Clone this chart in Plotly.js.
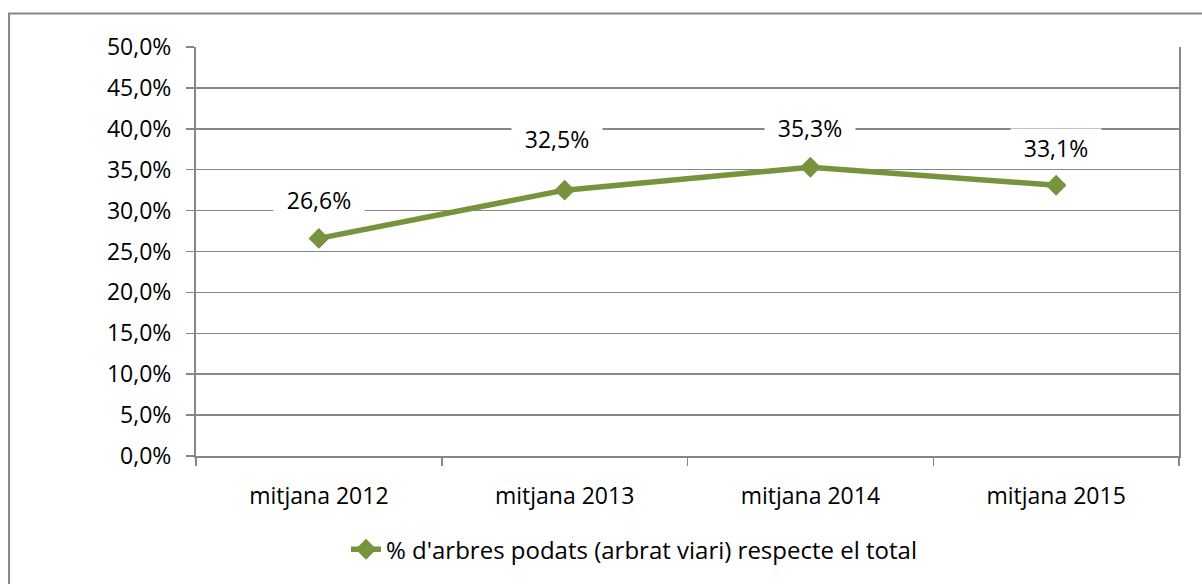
<!DOCTYPE html>
<html>
<head>
<meta charset="utf-8">
<script src="https://cdn.plot.ly/plotly-3.0.1.min.js"></script>
<style>
html,body{margin:0;padding:0;background:#fff;}
#chart{width:1202px;height:584px;}
</style>
</head>
<body>
<div id="chart"></div>
<script>
const categories = ["mitjana 2012", "mitjana 2013", "mitjana 2014", "mitjana 2015"];
const values = [26.6, 32.5, 35.3, 33.1];
const valueLabels = ["26,6%", "32,5%", "35,3%", "33,1%"];
const yTickVals = [0, 5, 10, 15, 20, 25, 30, 35, 40, 45, 50];
const yTickText = ["0,0%", "5,0%", "10,0%", "15,0%", "20,0%", "25,0%", "30,0%", "35,0%", "40,0%", "45,0%", "50,0%"];
const seriesName = "% d'arbres podats (arbrat viari) respecte el total";

const FONT = "'Open Sans', 'Noto Sans', sans-serif";
const FS = 23;
const GREEN = "#77933C";
const GRID = "#878787";

const labelShiftY = [38, 51, 39, 37];
const labelShiftX = [0, -8, 0, 0];

const annotations = categories.map((c, i) => ({
  x: c, y: values[i], xref: "x", yref: "y",
  text: valueLabels[i], showarrow: false,
  yshift: labelShiftY[i], xshift: labelShiftX[i], width: 84,
  bgcolor: "#ffffff", borderpad: 3,
  font: {family: FONT, size: FS, color: "#000"}
}));

const trace = {
  x: categories, y: values, type: "scatter", mode: "lines+markers",
  name: seriesName,
  line: {color: GREEN, width: 5.5},
  marker: {symbol: "diamond", size: 16, color: GREEN},
  cliponaxis: false
};

const layout = {
  width: 1202, height: 584,
  margin: {l: 196, r: 23, t: 47, b: 122},
  paper_bgcolor: "#fff", plot_bgcolor: "#fff",
  font: {family: FONT, size: FS, color: "#000"},
  showlegend: true,
  legend: {orientation: "h", x: 0.1526, xanchor: "left", y: -0.229, yanchor: "middle",
           font: {family: FONT, size: 24, color: "#000"}, bgcolor: "rgba(0,0,0,0)"},
  xaxis: {
    type: "category", showgrid: false, showline: true, linecolor: GRID, linewidth: 2,
    ticks: "outside", tickson: "boundaries", ticklen: 8, tickcolor: GRID, tickwidth: 1.5,
    tickfont: {family: FONT, size: FS, color: "#000"}, ticklabelstandoff: 18,
    range: [-0.5, 3.5], zeroline: false, fixedrange: true
  },
  yaxis: {
    range: [0, 50], tickvals: yTickVals, ticktext: yTickText,
    showgrid: true, gridcolor: GRID, gridwidth: 1.5,
    showline: true, linecolor: GRID, linewidth: 2, mirror: true,
    ticks: "outside", ticklen: 8, tickcolor: GRID, tickwidth: 1.5,
    tickfont: {family: FONT, size: FS, color: "#000"}, ticklabelstandoff: 10,
    zeroline: false, fixedrange: true
  },
  shapes: [{
    type: "rect", xref: "paper", yref: "paper", layer: "below",
    x0: -0.1902, x1: 1.1, y0: -0.6, y1: 1.0819,
    line: {color: GRID, width: 2}, fillcolor: "rgba(0,0,0,0)"
  }],
  annotations: annotations
};

Plotly.newPlot("chart", [trace], layout, {displayModeBar: false, staticPlot: true});
</script>
</body>
</html>
